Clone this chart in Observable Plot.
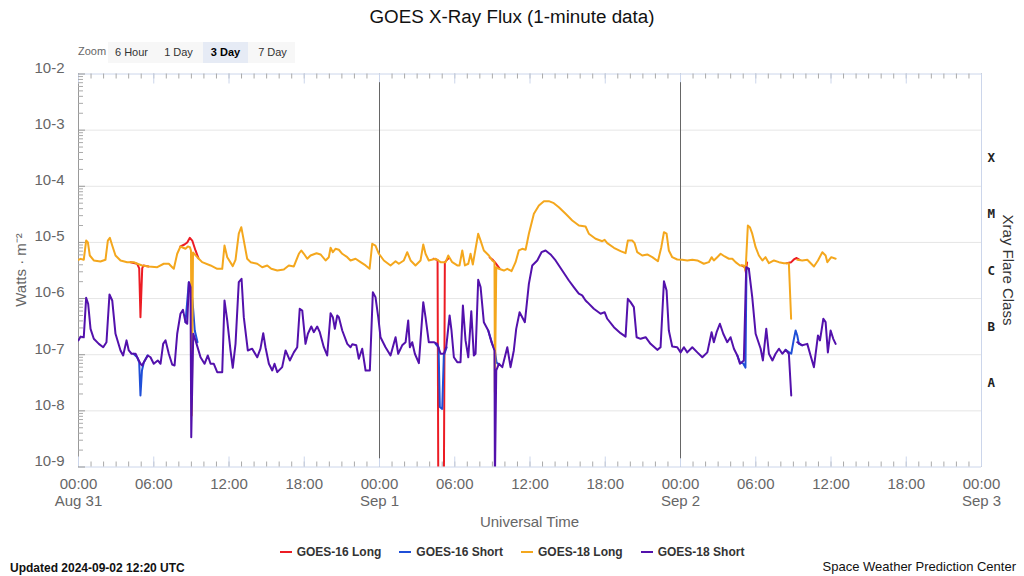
<!DOCTYPE html>
<html>
<head>
<meta charset="utf-8">
<script src="https://cdn.jsdelivr.net/npm/d3@7"></script>
<script src="https://cdn.jsdelivr.net/npm/@observablehq/plot@0.6"></script>
<style>
  body { margin: 0; width: 1024px; height: 576px; position: relative; overflow: hidden; background: #fff;
         font-family: "Liberation Sans", Arial, Helvetica, sans-serif; }
  #title { position: absolute; top: 6px; left: 0; width: 1024px; text-align: center; font-size: 18.8px; color: #111; }
  #zoomLabel { position: absolute; left: 78px; top: 45px; font-size: 11px; color: #666; }
  #zoomGroup { position: absolute; left: 108px; top: 42px; width: 187px; height: 21px; background: #f7f7f7; }
  .zbtn { position: absolute; top: 42px; width: 45px; height: 21px; line-height: 21px; text-align: center; font-size: 11px; color: #333; }
  .zbtn.sel { background: #e6ebf5; font-weight: bold; color: #000; }
  #chart { position: absolute; left: 0; top: 60px; }
  #ytitle { position: absolute; left: 20px; top: 270px; transform: translate(-50%, -50%) rotate(-90deg); white-space: nowrap; font-size: 15px; color: #666; }
  #rtitle { position: absolute; left: 1008px; top: 270px; transform: translate(-50%, -50%) rotate(90deg); white-space: nowrap; font-size: 15px; color: #333; }
  #xtitle { position: absolute; left: 529.5px; top: 513px; transform: translateX(-50%); white-space: nowrap; font-size: 15px; color: #666; }
  #legend { position: absolute; left: 0; width: 1024px; top: 545px; display: flex; justify-content: center; gap: 18px; font-size: 12px; font-weight: bold; color: #333; }
  .item { display: flex; align-items: center; }
  .sw { width: 12px; height: 2px; margin-right: 5px; }
  #updated { position: absolute; left: 10px; top: 561px; font-size: 12px; font-weight: bold; color: #111; }
  #credit { position: absolute; right: 8px; top: 559px; font-size: 13px; color: #111; }
</style>
</head>
<body>
<div id="title">GOES X-Ray Flux (1-minute data)</div>
<div id="zoomLabel">Zoom</div>
<div id="zoomGroup"></div>
<div id="chart"></div>
<div id="ytitle">Watts · m⁻²</div>
<div id="rtitle">Xray Flare Class</div>
<div id="xtitle">Universal Time</div>
<div id="legend"></div>
<div id="updated">Updated 2024-09-02 12:20 UTC</div>
<div id="credit">Space Weather Prediction Center</div>
<script>
// ---- data: [hours since 2024-08-31 00:00 UTC, flux in W/m^2]; null = gap ----
const seriesNames = ["GOES-16 Long", "GOES-16 Short", "GOES-18 Long", "GOES-18 Short"];
const seriesColors = ["#ec1c24", "#1f4fd8", "#f4a71d", "#5311ac"];
const zoomButtons = ["6 Hour", "1 Day", "3 Day", "7 Day"];
const selectedZoom = "3 Day";
const decadeLabels = [-9, -8, -7, -6, -5, -4, -3, -2];
const flareClasses = ["A", "B", "C", "M", "X"];
const flareClassFlux = [10 ** -7.5, 10 ** -6.5, 10 ** -5.5, 10 ** -4.5, 10 ** -3.5];

const goes16Long = [
  [4.15,4.45e-6],[4.68,4.17e-6],[4.84,3.45e-6],[4.94,4.67e-7],[5.08,3.45e-6],[5.18,3.89e-6],[5.58,3.73e-6],
  [5.6,null],
  [8.13,8.47e-6],[8.45,9.19e-6],[8.67,1.0e-5],[8.88,1.21e-5],[9.07,1.08e-5],[9.33,7.19e-6],[9.57,5.2e-6],
  [9.6,null],
  [28.31,5.12e-6],[28.63,4.88e-6],[28.69,3e-10],[29.13,3e-10],[29.21,4.45e-6],[29.5,5.2e-6],
  [29.6,null],
  [32.79,5.4e-6],[33.0,4.97e-6],[33.21,4.4e-6],[33.39,3.89e-6],[33.57,3.45e-6],
  [33.6,null],
  [52.87,3.89e-6],[53.15,3.6e-6],[53.21,2.92e-6],[53.31,4.4e-6],
  [53.4,null],
  [56.46,4.27e-6],[56.83,4.45e-6],[57.04,4.97e-6],[57.26,5.28e-6],[57.5,4.9e-6]
];

const goes16Short = [
  [4.39,1.04e-7],[4.68,9.0e-8],[4.84,7.3e-8],[4.94,1.88e-8],[5.06,5.24e-8],[5.21,7.37e-8],[5.5,9.7e-8],
  [5.55,null],
  [8.53,3.8e-7],[8.80,1.96e-6],[8.93,1.71e-6],[9.09,9.25e-7],[9.27,2.7e-7],[9.49,1.67e-7],
  [9.55,null],
  [28.47,1.56e-7],[28.71,1.35e-7],[28.81,1.17e-8],[29.0,1.08e-8],[29.13,9.7e-8],[29.35,1.35e-7],
  [29.4,null],
  [32.67,2.7e-7],[32.99,1.56e-7],[33.2,1.19e-7],[33.33,7.3e-8],[33.52,6.7e-8],
  [33.55,null],
  [52.53,9.7e-8],[52.74,7.3e-8],[53.0,7.0e-8],[53.18,5.9e-8],[53.26,3.45e-6],[53.45,3.39e-6],
  [53.5,null],
  [56.38,1.22e-7],[56.83,1.04e-7],[57.02,1.8e-7],[57.18,2.7e-7],[57.31,2.2e-7],[57.44,1.56e-7],[57.71,1.47e-7]
];

const goes18Long = [
  [0,4.9e-6],[0.16,5.1e-6],[0.42,4.9e-6],[0.61,1.08e-5],[0.75,1.0e-5],[0.90,5.85e-6],[1.22,4.77e-6],[1.75,4.57e-6],
  [2.15,4.9e-6],[2.34,1.08e-5],[2.50,1.21e-5],[2.69,8.8e-6],[2.95,5.85e-6],[3.35,4.77e-6],[3.88,4.45e-6],[4.41,4.45e-6],
  [4.68,4.17e-6],[5.08,3.89e-6],[5.61,3.73e-6],[6.28,3.62e-6],[6.80,4.17e-6],[7.20,4.17e-6],[7.47,3.62e-6],[7.60,3.39e-6],
  [7.87,6.28e-6],[8.13,8.47e-6],[8.53,7.71e-6],[8.72,8.47e-6],[8.88,8.23e-6],[8.97,7.19e-6],[9.03,8.3e-9],[9.13,6.62e-6],
  [9.47,5.46e-6],[9.86,4.45e-6],[10.53,3.89e-6],[11.06,3.39e-6],[11.46,3.39e-6],[11.64,8.8e-6],[11.86,5.46e-6],[12.30,3.78e-6],
  [12.52,4.9e-6],[12.78,1.43e-5],[12.98,1.87e-5],[13.13,1.24e-5],[13.45,5.12e-6],[13.72,4.45e-6],[14.25,4.17e-6],[14.65,3.62e-6],
  [15.05,3.89e-6],[15.37,3.39e-6],[15.85,3.16e-6],[16.37,3.3e-6],[16.77,3.89e-6],[17.17,3.73e-6],[17.57,6.28e-6],[17.76,7.19e-6],
  [17.97,6.28e-6],[18.24,5.12e-6],[18.50,5.85e-6],[18.98,6.43e-6],[19.30,6.1e-6],[19.70,4.77e-6],[19.96,5.46e-6],[20.10,8.03e-6],
  [20.28,6.7e-6],[20.49,7.71e-6],[20.76,7.4e-6],[21.03,6.28e-6],[21.43,5.46e-6],[21.69,4.77e-6],[22.09,5.12e-6],[22.49,4.45e-6],
  [22.89,3.89e-6],[23.21,3.39e-6],[23.42,9.46e-6],[23.68,8.8e-6],[23.95,6.28e-6],[24.35,4.77e-6],[24.88,3.89e-6],[25.28,4.63e-6],
  [25.54,4.17e-6],[25.94,4.77e-6],[26.21,6.7e-6],[26.48,4.77e-6],[26.87,3.89e-6],[27.27,4.77e-6],[27.49,9.19e-6],[27.67,6.28e-6],
  [27.93,4.77e-6],[28.47,5.12e-6],[28.87,4.45e-6],[29.27,4.45e-6],[29.48,5.85e-6],[29.80,4.45e-6],[30.20,3.89e-6],[30.38,3.89e-6],
  [30.60,7.19e-6],[30.81,3.89e-6],[31.08,4.17e-6],[31.26,6.28e-6],[31.44,4.05e-6],[31.66,7.71e-6],[31.87,1.43e-5],[32.06,1.08e-5],
  [32.32,7.19e-6],[32.72,5.85e-6],[32.99,4.77e-6],[33.17,4.45e-6],[33.20,2.15e-8],[33.31,3.62e-6],[33.52,3.39e-6],[33.92,3.16e-6],
  [34.19,3.39e-6],[34.53,3.08e-6],[34.85,4.45e-6],[35.11,7.19e-6],[35.38,7.71e-6],[35.65,7.4e-6],[35.91,1.43e-5],[36.31,3.24e-5],
  [36.71,4.55e-5],[37.11,5.43e-5],[37.50,5.43e-5],[37.90,5.0e-5],[38.30,4.24e-5],[38.84,3.24e-5],[39.37,2.46e-5],[39.90,2.0e-5],
  [40.43,1.92e-5],[40.69,1.43e-5],[41.23,1.16e-5],[41.76,1.05e-5],[41.95,1.11e-5],[42.16,9.7e-6],[42.69,8.03e-6],[43.22,6.99e-6],
  [43.62,6.43e-6],[43.80,1.08e-5],[44.16,1.08e-5],[44.34,9.7e-6],[44.55,6.7e-6],[44.95,5.85e-6],[45.35,6.1e-6],[45.75,5.46e-6],
  [46.20,4.63e-6],[46.47,8.23e-6],[46.68,1.52e-5],[46.89,1.43e-5],[47.07,7.19e-6],[47.34,5.46e-6],[47.74,4.97e-6],[48.14,4.9e-6],
  [48.54,4.77e-6],[48.94,4.9e-6],[49.34,4.77e-6],[49.86,4.17e-6],[50.26,4.45e-6],[50.48,5.46e-6],[50.66,4.77e-6],[50.93,5.46e-6],
  [51.20,6.28e-6],[51.52,5.62e-6],[51.86,5.12e-6],[52.13,5.12e-6],[52.39,4.45e-6],[52.74,3.89e-6],[53.05,3.89e-6],[53.19,3.16e-6],
  [53.37,2.0e-5],[53.53,1.87e-5],[53.72,1.43e-5],[53.99,8.23e-6],[54.25,5.85e-6],[54.53,4.77e-6],[54.78,5.46e-6],[55.05,4.27e-6],
  [55.45,4.77e-6],[55.85,4.45e-6],[56.24,4.27e-6],[56.64,4.27e-6],[56.82,4.37e-7],[57.0,null],[57.31,4.9e-6],[57.71,4.77e-6],
  [58.11,4.9e-6],[58.64,3.73e-6],[58.96,4.77e-6],[59.31,6.7e-6],[59.57,5.85e-6],[59.71,4.45e-6],[60.02,5.46e-6],[60.37,5.12e-6]
];

const goes18Short = [
  [0,1.8e-7],[0.16,2.1e-7],[0.42,2.05e-7],[0.61,1.03e-6],[0.77,8.08e-7],[0.96,2.89e-7],[1.22,1.92e-7],[1.62,1.56e-7],
  [1.97,1.36e-7],[2.23,1.67e-7],[2.47,1.18e-6],[2.69,9.25e-7],[2.95,2.36e-7],[3.35,1.19e-7],[3.56,9.7e-8],[3.83,1.8e-7],
  [4.01,1.19e-7],[4.23,1.04e-7],[4.55,1.04e-7],[4.68,9.0e-8],[4.94,6.9e-8],[5.08,6.43e-8],[5.21,7.37e-8],[5.53,9.7e-8],
  [5.74,9.0e-8],[6.00,6.9e-8],[6.32,7.9e-8],[6.54,6.9e-8],[6.75,1.56e-7],[6.94,1.8e-7],[7.20,1.04e-7],[7.47,6.7e-8],
  [7.66,6.43e-8],[7.87,2.36e-7],[8.13,5.36e-7],[8.33,6.3e-7],[8.53,3.8e-7],[8.67,3.56e-7],[8.80,1.96e-6],[8.93,1.6e-6],
  [8.99,3.4e-9],[9.15,2.36e-7],[9.33,1.8e-7],[9.73,9.0e-8],[10.05,6.9e-8],[10.31,9.7e-8],[10.53,6.9e-8],[10.79,6.9e-8],
  [11.06,4.89e-8],[11.46,4.89e-8],[11.64,9.25e-7],[11.86,4.07e-7],[12.12,1.19e-7],[12.30,5.85e-8],[12.52,1.56e-7],[12.78,1.96e-6],
  [13.00,2.25e-6],[13.18,4.67e-7],[13.50,1.19e-7],[13.85,1.28e-7],[14.25,9.0e-8],[14.51,1.28e-7],[14.73,2.42e-7],[14.91,1.36e-7],
  [15.18,6.9e-8],[15.45,5.24e-8],[15.63,6.9e-8],[15.85,4.89e-8],[16.24,6.0e-8],[16.51,1.19e-7],[16.85,7.9e-8],[17.17,1.1e-7],
  [17.44,1.36e-7],[17.64,6.58e-7],[17.84,6.14e-7],[18.10,1.56e-7],[18.29,2.36e-7],[18.56,3.18e-7],[18.76,2.52e-7],[19.03,3.18e-7],
  [19.24,2.52e-7],[19.56,1.36e-7],[19.83,9.7e-8],[20.10,5.49e-7],[20.28,4.67e-7],[20.44,2.9e-7],[20.63,5.0e-7],[20.76,4.67e-7],
  [21.03,2.7e-7],[21.43,1.56e-7],[21.69,1.36e-7],[21.83,1.53e-7],[22.15,1.47e-7],[22.35,8.47e-8],[22.62,1.28e-7],[22.89,5.24e-8],
  [23.23,5.24e-8],[23.47,1.3e-6],[23.68,1.06e-6],[23.90,4.67e-7],[24.08,2.05e-7],[24.48,1.36e-7],[24.88,9.7e-8],[25.28,2.05e-7],
  [25.49,1.04e-7],[25.81,1.47e-7],[26.08,1.67e-7],[26.29,4.07e-7],[26.42,1.36e-7],[26.61,1.67e-7],[26.82,1.04e-7],[27.14,7.07e-8],
  [27.49,8.63e-7],[27.67,4.67e-7],[27.93,1.67e-7],[28.33,1.67e-7],[28.60,1.56e-7],[28.87,1.04e-7],[29.13,1.04e-7],[29.32,1.36e-7],
  [29.59,5.0e-7],[29.74,2.7e-7],[29.93,9.0e-8],[30.20,7.37e-8],[30.46,7.37e-8],[30.65,7.53e-7],[30.86,1.8e-7],[31.08,9.0e-8],
  [31.32,5.96e-7],[31.52,9.7e-8],[31.66,1.04e-7],[31.87,2.16e-6],[32.06,1.6e-6],[32.32,3.8e-7],[32.67,2.7e-7],[32.93,1.67e-7],
  [33.17,1.19e-7],[33.20,5e-10],[33.31,5.24e-8],[33.52,6.9e-8],[33.79,6.0e-8],[34.19,1.36e-7],[34.45,6.0e-8],[34.71,1.19e-7],
  [34.90,2.89e-7],[35.17,5.72e-7],[35.59,3.8e-7],[35.91,1.83e-6],[36.18,3.89e-6],[36.58,4.77e-6],[36.92,6.7e-6],[37.24,7.19e-6],
  [37.64,6.1e-6],[38.04,4.77e-6],[38.57,3.16e-6],[39.10,2.1e-6],[39.49,1.6e-6],[39.89,1.22e-6],[40.16,1.14e-6],[40.43,9.25e-7],
  [40.57,8.63e-7],[41.09,6.58e-7],[41.63,5.36e-7],[41.95,5.72e-7],[42.16,4.37e-7],[42.69,3.09e-7],[43.22,2.42e-7],[43.62,2.1e-7],
  [43.80,9.9e-7],[44.02,8.63e-7],[44.28,7.03e-7],[44.50,2.05e-7],[44.82,1.92e-7],[45.22,2.05e-7],[45.61,1.56e-7],[46.15,1.22e-7],
  [46.41,1.36e-7],[46.68,2.04e-6],[46.89,1.39e-6],[47.07,2.7e-7],[47.34,1.4e-7],[47.74,1.36e-7],[48.01,1.1e-7],[48.27,1.36e-7],
  [48.54,1.1e-7],[48.94,1.36e-7],[49.34,1.1e-7],[49.74,9.0e-8],[50.14,1.1e-7],[50.48,2.52e-7],[50.66,1.67e-7],[50.88,2.52e-7],
  [51.14,3.56e-7],[51.41,2.36e-7],[51.73,1.67e-7],[51.99,2.05e-7],[52.26,1.28e-7],[52.53,9.7e-8],[52.74,6.9e-8],[53.05,7.9e-8],
  [53.24,3.62e-6],[53.45,3.39e-6],[53.72,1.06e-6],[53.99,2.36e-7],[54.39,1.28e-7],[54.57,7.9e-8],[54.84,2.9e-7],[55.05,1.04e-7],
  [55.33,7.9e-8],[55.58,1.04e-7],[55.85,1.28e-7],[56.12,1.04e-7],[56.38,1.22e-7],[56.64,1.04e-7],[56.83,1.88e-8],[57.0,null],
  [57.31,1.67e-7],[57.71,1.47e-7],[58.11,1.56e-7],[58.37,9.7e-8],[58.64,6.0e-8],[58.96,2.2e-7],[59.12,1.8e-7],[59.39,4.37e-7],
  [59.57,3.8e-7],[59.75,1.1e-7],[59.97,2.7e-7],[60.18,1.92e-7],[60.37,1.56e-7]
];

// ---- build ----
const start = Date.UTC(2024, 7, 31);
const end = Date.UTC(2024, 8, 3);
const toRows = (pairs, name) => pairs.map(([h, v]) => ({t: new Date(start + h * 3600000), v: v == null ? NaN : v, name}));
const seriesData = [goes16Long, goes16Short, goes18Long, goes18Short];
const rows = seriesData.map((s, i) => toRows(s, seriesNames[i]));

const hours = d3.utcHour.range(new Date(start), new Date(end + 1));
const sixHours = hours.filter(d => d.getUTCHours() % 6 === 0);
const days = hours.filter(d => d.getUTCHours() === 0);
const decades = decadeLabels.map(e => 10 ** e);
const minors = [];
for (let e = -9; e < -2; e++) for (let k = 2; k <= 9; k++) minors.push(k * 10 ** e);
const classRows = flareClasses.map((c, i) => ({c, v: flareClassFlux[i]}));

const W = 1024, H = 480, mt = 13.5, mb = 73.5, ml = 78, mr = 43;
const fw = W - ml - mr, fh = H - mt - mb;

const chart = Plot.plot({
  width: W, height: H,
  marginTop: mt, marginBottom: mb, marginLeft: ml, marginRight: mr,
  style: {fontFamily: "Liberation Sans, Arial, Helvetica, sans-serif", fontSize: "15px", color: "#666", background: "transparent", overflow: "visible"},
  x: {type: "utc", domain: [new Date(start), new Date(end)]},
  y: {type: "log", domain: [1e-9, 1e-2]},
  marks: [
    Plot.ruleY(decades.slice(1, -1), {stroke: "#e6e6e6"}),
    Plot.ruleY([1e-2], {stroke: "#ccd6eb"}),
    Plot.ruleY([1e-9], {stroke: "#ccd6eb"}),
    Plot.ruleX([new Date(end)], {stroke: "#ccd6eb"}),
    Plot.ruleX([new Date(start)], {stroke: "#999"}),
    Plot.tickX(hours, {x: d => d, insetTop: fh - 5, stroke: "#aaa"}),
    Plot.tickX(hours, {x: d => d, insetBottom: fh - 5, stroke: "#aaa"}),
    Plot.tickX(sixHours, {x: d => d, insetTop: fh - 10, stroke: "#ccd6eb"}),
    Plot.tickX(sixHours, {x: d => d, insetBottom: fh - 10, stroke: "#ccd6eb"}),
    Plot.tickY(minors, {y: d => d, insetRight: fw - 5, stroke: "#aaa"}),
    Plot.tickY(decades, {y: d => d, insetRight: fw - 7, stroke: "#999"}),
    Plot.ruleX(days.slice(1, -1), {y1: 7e-3, y2: 1.4e-9, stroke: "#666"}),
    ...rows.map((r, i) => Plot.line(r, {x: "t", y: "v", stroke: seriesColors[i], strokeWidth: 2, clip: true, curve: "linear"})),
    Plot.axisY({ticks: decades, tickFormat: d => "10" + Math.round(Math.log10(d)), tickSize: 0, tickPadding: 14, dy: -6, label: null}),
    Plot.axisX({ticks: sixHours, tickFormat: d3.utcFormat("%H:%M"), tickSize: 0, tickPadding: 11, label: null}),
    Plot.axisX({ticks: days, tickFormat: d3.utcFormat("%b %-d"), tickSize: 0, tickPadding: 28, label: null}),
    Plot.text(classRows, {x: () => new Date(end), y: "v", text: "c", dx: 6, textAnchor: "start",
      fontFamily: "DejaVu Sans Mono, monospace", fontWeight: "bold", fontSize: 12.5, fill: "#222"})
  ]
});
document.getElementById("chart").appendChild(chart);

// zoom buttons
zoomButtons.forEach((b, i) => {
  const el = document.createElement("div");
  el.className = "zbtn" + (b === selectedZoom ? " sel" : "");
  el.style.left = (109 + i * 47) + "px";
  el.textContent = b;
  document.body.appendChild(el);
});

// legend
const lg = document.getElementById("legend");
seriesNames.forEach((n, i) => {
  const it = document.createElement("div");
  it.className = "item";
  it.innerHTML = `<div class="sw" style="background:${seriesColors[i]}"></div><span>${n}</span>`;
  lg.appendChild(it);
});
</script>
</body>
</html>
